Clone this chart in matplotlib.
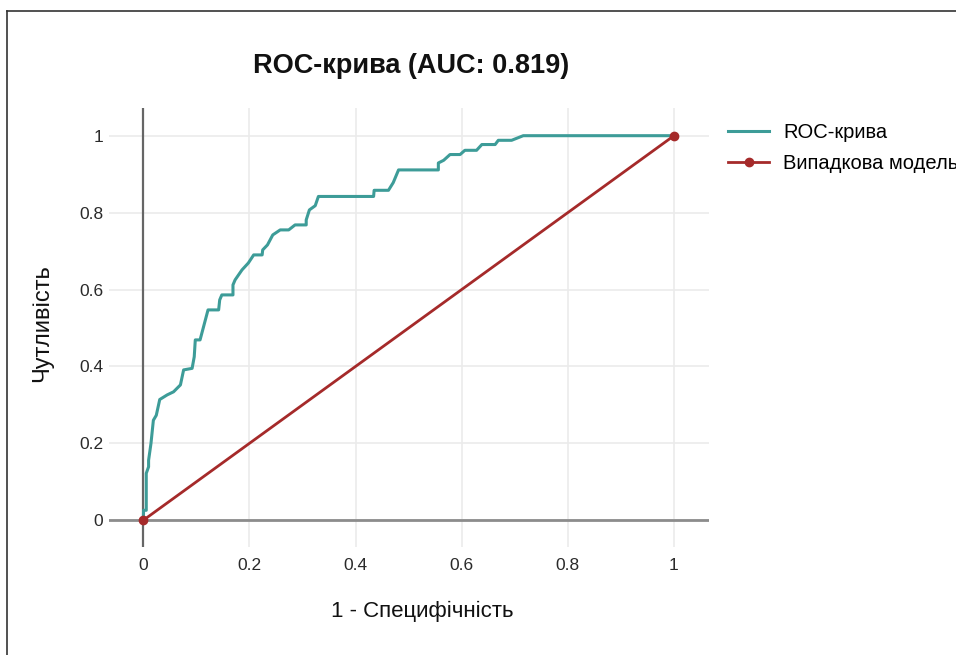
import numpy as np
import matplotlib.pyplot as plt

plt.rcParams['font.family'] = ['Liberation Sans', 'DejaVu Sans']

# ROC curve points
fpr = [0.0, 0.0006, 0.0056, 0.0056, 0.010, 0.010, 0.0145, 0.019, 0.0245, 0.031,
       0.045, 0.057, 0.070, 0.076, 0.092, 0.096, 0.098, 0.107, 0.112, 0.122,
       0.142, 0.144, 0.148, 0.169, 0.169, 0.173, 0.186, 0.198, 0.208, 0.224,
       0.225, 0.234, 0.244, 0.258, 0.274, 0.286, 0.307, 0.307, 0.313, 0.324,
       0.330, 0.434, 0.435, 0.462, 0.471, 0.481, 0.556, 0.556, 0.566, 0.578,
       0.597, 0.606, 0.628, 0.638, 0.663, 0.669, 0.694, 0.716, 1.0]
tpr = [0.0, 0.026, 0.026, 0.122, 0.139, 0.156, 0.200, 0.260, 0.273, 0.314,
       0.326, 0.334, 0.352, 0.391, 0.395, 0.425, 0.469, 0.469, 0.495, 0.547,
       0.547, 0.573, 0.586, 0.586, 0.612, 0.625, 0.651, 0.669, 0.690, 0.690,
       0.703, 0.716, 0.742, 0.755, 0.755, 0.768, 0.768, 0.781, 0.807, 0.818,
       0.842, 0.842, 0.858, 0.858, 0.878, 0.911, 0.911, 0.929, 0.936, 0.951,
       0.951, 0.962, 0.962, 0.977, 0.977, 0.988, 0.988, 1.0, 1.0]
random_x = [0, 1]
random_y = [0, 1]
auc = 0.819
ticks = [0, 0.2, 0.4, 0.6, 0.8, 1]
tick_labels = ['0', '0.2', '0.4', '0.6', '0.8', '1']

W, H = 956, 655
fig = plt.figure(figsize=(W / 100, H / 100), dpi=100)
ax = fig.add_axes([109 / W, 1 - 547 / H, 600 / W, 439 / H])

ax.plot(fpr, tpr, color='#3d9c98', linewidth=2.2, label='ROC-крива', zorder=3)
ax.plot(random_x, random_y, color='#a52a2a', linewidth=2, marker='o', markersize=6,
        label='Випадкова модель', zorder=4, clip_on=False)

ax.set_xlim(-0.0646, 1.066)
ax.set_ylim(-0.0695, 1.072)
ax.set_xticks(ticks)
ax.set_yticks(ticks)
ax.set_xticklabels(tick_labels)
ax.set_yticklabels(tick_labels)
ax.tick_params(length=0, labelsize=12.5, colors='#2a2a2a')
ax.tick_params(axis='y', pad=4)
ax.tick_params(axis='x', pad=8)
ax.grid(True, color='#ebebeb', linewidth=1.2, zorder=0)
ax.axhline(0, color='#8c8c8c', linewidth=2, zorder=2)
ax.axvline(0, color='#666666', linewidth=1.6, zorder=2)
for s in ax.spines.values():
    s.set_visible(False)

fig.text(411 / W, 1 - 66 / H, f'ROC-крива (AUC: {auc})', fontsize=19.5,
         fontweight='bold', ha='center', va='center', color='#111111')
ax.set_xlabel('1 - Специфічність', fontsize=16, va='center', color='#111111')
ax.xaxis.set_label_coords((422 - 109) / 600, (547 - 611) / 439)
ax.set_ylabel('Чутливість', fontsize=17, va='center', color='#111111')
ax.yaxis.set_label_coords((42 - 109) / 600, (547 - 323) / 439)

ax.legend(loc='upper left', bbox_to_anchor=(728 / W, 1 - 123 / H),
          bbox_transform=fig.transFigure, frameon=False, borderpad=0,
          borderaxespad=0, fontsize=14.5, handlelength=2.05, handletextpad=0.68,
          labelspacing=0.6)

# outer frame of the screenshot
fig.add_artist(plt.Line2D([7 / W, 7 / W], [0, 1 - 11 / H], color='#333333',
                          linewidth=1.2, transform=fig.transFigure))
fig.add_artist(plt.Line2D([7 / W, 1], [1 - 11 / H, 1 - 11 / H], color='#333333',
                          linewidth=1.2, transform=fig.transFigure))

fig.savefig('out.png', dpi=100)
